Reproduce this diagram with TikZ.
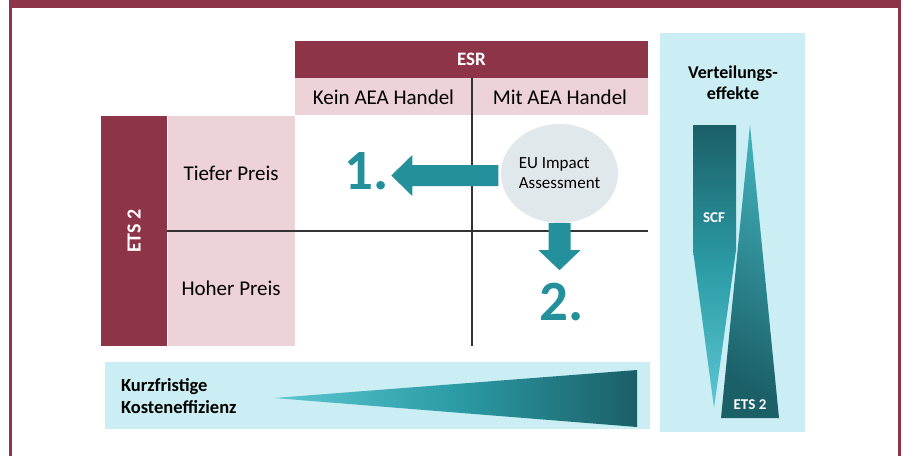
\documentclass[tikz,border=0pt]{standalone}
\usetikzlibrary{positioning,calc,shapes.geometric}
\usepackage{xcolor}
\usepackage{fontspec}
\setmainfont{Carlito}

\definecolor{esrred}{HTML}{8E3448}
\definecolor{pinkcell}{HTML}{EDD2D8}
\definecolor{skyblue}{HTML}{CAEEF3}
\definecolor{arrowteal}{HTML}{23909B}
\definecolor{impgray}{HTML}{E1E8EC}
\definecolor{tdark}{HTML}{1B5F67}
\definecolor{tmid}{HTML}{2B9BA5}
\definecolor{tlight}{HTML}{5CC7D2}

\begin{document}
\begin{tikzpicture}[x=1pt, y=-1pt,
        cell/.style={rectangle, inner sep=0pt, fill=pinkcell, font=\fontsize{21}{25}\selectfont},
        head/.style={rectangle, inner sep=0pt, fill=esrred, text=white, font=\bfseries\fontsize{19}{23}\selectfont},
        panel/.style={rectangle, inner sep=0pt, fill=skyblue},
        bignum/.style={inner sep=0pt, text=arrowteal, font=\bfseries\fontsize{57}{60}\selectfont},
        wedgelabel/.style={inner sep=0pt, text=white, font=\bfseries\fontsize{15}{18}\selectfont},
        gridline/.style={draw=black!80, line width=1.5pt}]
        \useasboundingbox (0,0) rectangle (903,456);
        \fill[esrred] (9,0) rectangle (901,8);
        \fill[esrred] (9,0) rectangle (12,456);
        \fill[esrred] (898,0) rectangle (901,456);

        % Matrix: ESR columns, ETS 2 rows
        \node[head, minimum width=353pt, minimum height=37pt] (esr) at (471.5,59.5) {ESR};
        \node[cell, minimum width=177pt, minimum height=37pt, anchor=north west] (kein) at (esr.south west) {Kein AEA Handel};
        \node[cell, minimum width=176pt, minimum height=37pt, anchor=north east] (mit) at (esr.south east) {Mit AEA Handel};
        \node[cell, minimum width=127pt, minimum height=115pt, anchor=north east] (tief) at (kein.south west) {Tiefer Preis};
        \node[cell, minimum width=127pt, minimum height=115pt, anchor=north] (hoch) at (tief.south) {Hoher Preis};
        \node[head, rotate=90, minimum width=230pt, minimum height=66pt, anchor=south,
            font=\bfseries\fontsize{20}{24}\selectfont] (ets) at (tief.south west) {ETS 2};
        \draw[gridline] (tief.south west) -- (tief.south west -| mit.east);
        \draw[gridline] (kein.north east) -- (kein.north east |- hoch.south);

        \node[ellipse, fill=impgray, minimum width=117pt, minimum height=99pt, inner sep=0pt, align=left,
            font=\fontsize{17}{20}\selectfont] (imp) at (559.5,173.5) {EU Impact\\Assessment};
        \fill[arrowteal] ($(imp.west)+(-2.5,-8.5)$) -- ++(-86,0) -- ++(0,-10) -- ++(-21,20.5) coordinate (tip1)
            -- ++(21,20.5) -- ++(0,-10) -- ++(86,0) -- cycle;
        \fill[arrowteal] ($(imp.south)+(-11,0)$) -- ++(0,27) -- ++(-10,0) -- ++(21,20) coordinate (tip2)
            -- ++(21,-20) -- ++(-10,0) -- ++(0,-27) -- cycle;
        \node[bignum, anchor=base east] (one) at ($(tip1)+(-2,13.5)$) {1.};
        \node[bignum, anchor=base] (two) at ($(tip2)+(2.5,50)$) {2.};

        % Kosteneffizienz wedge
        \node[panel, minimum width=545pt, minimum height=67pt] (kbox) at (377.5,395.5) {};
        \node[anchor=west, align=left, inner sep=0pt, font=\bfseries\fontsize{18.5}{22}\selectfont] (ktext)
            at ($(kbox.west)+(16,1)$) {Kurzfristige\\Kosteneffizienz};
        \shade[left color=tlight, right color=tdark, middle color=tmid] (274,398) -- (637,370) -- (637,427) -- cycle;

        % Verteilungseffekte
        \node[panel, minimum width=145pt, minimum height=399pt] (vbox) at (732.5,232.5) {};
        \node[align=center, inner sep=0pt, font=\bfseries\fontsize{18}{21}\selectfont] (vtext) at (733,83) {Verteilungs-\\effekte};
        \shade[top color=tdark, bottom color=tlight, middle color=tmid]
            (693,125) -- (736,125) -- (736,250) -- (714,408) -- (693,250) -- cycle;
        \shade[top color=tmid!60!tlight, bottom color=tdark, shading angle=-30]
            (750,125) -- (779,418) -- (721,418) -- cycle;
        \node[wedgelabel] (scf) at (714,218) {SCF};
        \node[wedgelabel] (ets2) at (750,405) {ETS 2};
\end{tikzpicture}
\end{document}
